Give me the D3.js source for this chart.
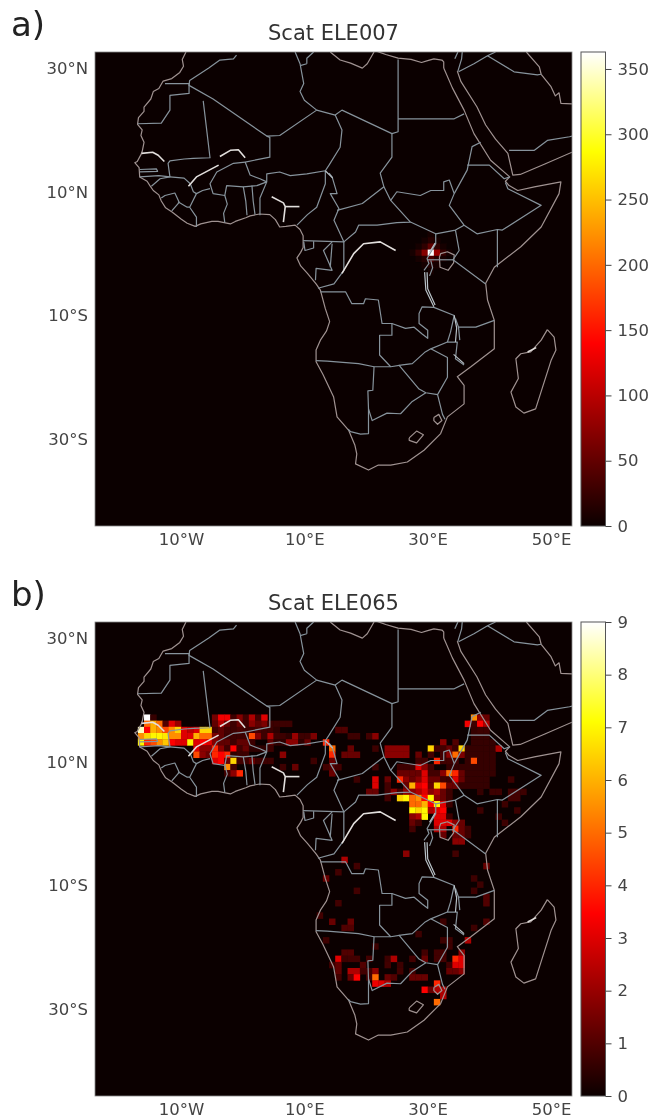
<!DOCTYPE html>
<html>
<head>
<meta charset="utf-8">
<script src="https://d3js.org/d3.v7.min.js"></script>
<style>
  html, body { margin: 0; padding: 0; background: #fff; }
  svg { display: block; filter: blur(0.45px); font-family: "DejaVu Sans", sans-serif; }
</style>
</head>
<body>
<div id="chart"></div>
<script>
// tick labels and titles
var lonTicks = [-10, 10, 30, 50];
var latTicks = [30, 10, -10, -30];
var barTicksA = [0, 50, 100, 150, 200, 250, 300, 350];
var barTicksB = [0, 1, 2, 3, 4, 5, 6, 7, 8, 9];
var maxA = 363, maxB = 9;

// gridded counts, each row is [lat, first lon, v, v, v ...]
var cellsA = [
  [3, 30, 5], [2, 29, 6, 16, 6], [1, 28, 5, 20, 48, 20, 5], [0, 27, 6, 26, 70, 363, 80, 24, 5],
  [-1, 28, 5, 16, 36, 16, 4], [-2, 29, 5, 12, 5], [-3, 30, 4]
];
var cellsWest = [
  [17, -16, 9, .6, 0, 0, 0, 0, 0, 0, 0, 0, 0, 1.5, 3.3, 3.3, .7, 1.7, .8, 2.3, .8, 3],
  [16, -16, 5, 6, 5, 1, 3, 2, 0, 0, 0, 0, 0, 1.2, 2.3, 1.2, .7, 1.3, .7, 1.8, 1.2, 1.6, .7, .7, .7, .7],
  [15, -17, 8.5, 3.5, 6, 5.5, 4.5, 5.5, 6.5, 3, 2.5, 3, 6.5, 6.5, .8, 1.2, .8, .7, .9, .7, .7, .9, .7, .7, .5],
  [14, -17, 5.5, 6.5, 7, 7, 6.8, 5.5, 5.5, 3, 3, 6, 5, 5, 1.5, 1.2, .7, .7, .7, .7, 4.5, 1.7, .7, 2.3, .7, .7, .5, 2, .7, .7, 1.6],
  [13, -17, 7, 4, 4.5, 5.5, 6.3, 3.5, 3, 3, 7, 3, 3.5, 3, 1.7, 1.2, 1.2, .7, 1.2, 1.2, .7, 0, 0, 1.2, .5, .5, 1.8, 1.8, .5, 1.3],
  [12, -8, 3, 1.8, 1.8, 4, 1.8, .8, 3.5, .8, 1.3, .5, .5, .5, .7],
  [11, -8, 4.5, 1.8, 1.3, 4, 3.5, 4, .5, .7, .7, 0, 0, 0, 0, 0, 1.8],
  [10, -5, 3, 3.5, 1.3, 6.5, .8, .7, 1.3, .7, .7, .7, 0, 0, 0, 0, 0, 0, .7],
  [9, -3, 5.5, .8, 0, 0, 0, 0, 0, 0, 0, .7, 0, 1.3],
  [8, -3, .8, 1.8, 4]
];
var cellsEast = [
  [17, 37, 5.5, 1.8, 1.3], [16, 36, 3.3, .7, 3.5, 2.3],
  [15, 15, 1, 1], [15, 37, .6, .7, .7],
  [14, 17, .7, .7, 0, .8, 1.8], [14, 37, .6, .6, .6],
  [13, 13, 4], [13, 32, 1.8, 0, 1, 0, 0, .6, .6, .6, .6],
  [12, 14, 5, 0, 0, 1.3], [12, 21, .7, 0, 1.8, 1.8, 1.8, 1.8, 0, 0, 0, 6.5, .8, .8, 1.3, .7, 6.5, .6, .6, .6, .6, .6, 2.3],
  [11, 14, 4, 0, 1.3, 1.3, 1.3], [11, 23, 1.8, 1.8, 1.8, 1.8, 0, 1.3, 0, .8, 0, .8, 1.8, 5, 1.6, .6, .6, .6, .6, .6],
  [10, 14, 1.3], [10, 28, .8, .8, 0, 4, .8, .8, .8, 0, .6, 4.5, .6, .6, .6],
  [9, 13, .8, 1, .8], [9, 21, .7, 0, 0, 0, .7, .7, .8, 3, 1.8, .8, 0, 0, .6, .6, .6, .6, .6, .6, .6, .6],
  [8, 14, 1.3], [8, 25, 1.3, 1.3, 1.3, 1.3, 3, .8, .8, 1.8, 5, 4, 1.3, .6, .6, .6, .6, .6],
  [7, 18, .7, 0, 0, 3, 0, 1.3, 0, 4, 1.8, 1.3, 1.8, 3, 1.3, 1.3, .8, .7, 3, 1.3, .6, .6, .6, .6, 0, 0, 0, .7],
  [6, 21, 3, 0, .8, 0, 0, 1.3, 6, 3, 3.5, 1.3, 6.5, 4.5, 1.3, 1.3, .6, .6, .6, .6, .6],
  [5, 20, 1.3, 1.3, 0, .8, 1.8, .8, 1.8, 1.8, 2.3, 3, 1.8, 2.3, 1.3, .7, 0, 0, 0, 0, .6, 0, .7, .7, 0, .8, .8, .7],
  [4, 23, .8, 0, 6.5, 7, 5, 5.5, 3.5, 7, 1.8, 1.3, .7], [4, 43, .8, .8],
  [3, 27, 5, 5, 6, 3.5, 7, 3, .7], [3, 42, .7],
  [2, 27, 7, 6.5, 7, 2.3, 3, 3.5], [2, 38, .7], [2, 44, .7],
  [1, 27, 1.8, 2.3, 7, 0, 3, 3, .7], [1, 41, .7],
  [0, 27, 1.3, .8, 0, 0, 3, 3, 3, 1.8, 1.3], [0, 42, .7],
  [-1, 27, .8], [-1, 31, 2.3, 2.3, 0, 4, 1.3, .7],
  [-2, 32, 1.3, 0, 1.3, 1.3, .7], [-3, 34, 1.8, 1.8],
  [-5, 26, 1.8], [-5, 34, .8], [-6, 16, 2.3]
];
var cellsSouth = [
  [-7, 18, .8], [-7, 39, 1.3], [-8, 15, .8], [-9, 13, 1.3], [-9, 37, .7], [-10, 38, .7],
  [-11, 18, .8], [-11, 37, .7], [-12, 39, 1], [-13, 15, .8], [-13, 39, 1], [-15, 12, .8],
  [-16, 14, 1.3], [-16, 17, 1.3], [-16, 32, .7], [-16, 39, 1], [-17, 16, 1, 1], [-17, 37, .7],
  [-18, 28, .7], [-19, 13, .7], [-19, 32, .7, .7], [-19, 36, 2.3], [-20, 21, .7], [-20, 33, .7],
  [-21, 16, 1, 1], [-21, 29, .8, 0, .8, .8, 0, 0, 1.8],
  [-22, 15, 3, .7, .8, .8, 0, .8, 0, 0, .7, 2.3, 0, 0, .8, 0, 1.3, 0, .8, .8, 0, 4, 3],
  [-23, 14, .7, 1.2, 0, 0, 0, 1, 0, 0, 0, .8, 0, .7, 0, 0, 0, 0, 0, 0, 0, .8, 3, 3],
  [-24, 15, 1.2, 0, 2.3, 2.3, .8, .8, 1.8, 0, 0, 0, .8, 0, .8, 0, 0, 0, 0, 0, 1.3, 1.3, 1.8],
  [-25, 15, .8, 0, 1.3, 3.5, 0, .8, 5, 0, 1.3, 1, 0, 0, 1.3, 1.3, 1.3],
  [-26, 21, 3.2, 3, 2.3], [-26, 31, 4],
  [-27, 29, 3.5, 1.3, 2.3, 2.3], [-28, 32, 2.3], [-29, 31, 5]
];

// coast lines, lon/lat
var coastAfrica = [[-9.2,32.6],[-9.8,31.4],[-9.6,30.3],[-10.2,29.3],[-11.5,28.3],[-12.9,27.9],[-13.6,26.7],[-14.5,26.2],[-14.9,25],[-16,23.7],[-16,23],[-16.9,22],[-17.05,20.9],[-16.3,20],[-16.5,19.1],[-16,18],[-16.3,16.5],[-16.5,16],[-17.1,14.9],[-17.5,14.7],[-16.8,13.9],[-16.7,12.4],[-15.5,11.7],[-15,10.9],[-14.5,10.2],[-13.6,9.5],[-13.2,8.5],[-12.5,7.4],[-11.4,6.7],[-10,5.6],[-9,4.9],[-7.7,4.4],[-6.8,4.8],[-5,5.2],[-4,5.2],[-2,4.8],[-1.2,5.2],[.5,5.8],[1.2,6.1],[2.7,6.4],[4.4,6.3],[5.3,5.5],[6,4.3],[7,4.4],[8.5,4.6],[9.3,3.9],[9.8,2.9],[9.8,1],[9.4,.2],[8.8,-.7],[9.4,-2],[10.5,-3.2],[11.9,-4.9],[12.6,-5.9],[13.4,-8.9],[14.1,-11],[13.6,-12.5],[12.6,-14],[11.9,-15.6],[11.9,-17.5],[13,-19.5],[14.75,-23.2],[15.3,-26.4],[17.2,-28.6],[18.2,-31],[18.5,-32.4],[18.3,-34],[20.4,-35],[22,-34.2],[24,-34.2],[26.7,-33.7],[29.4,-31.8],[32.1,-29.1],[33.2,-26.4],[35.9,-24.3],[35.9,-21.3],[34.8,-19.9],[37,-18.3],[40.8,-15.4],[40.8,-10.8],[39.7,-7.5],[39.4,-4.8],[40.8,-2.2],[45.1,1.1],[48.4,4.3],[51.3,9.7],[51.6,11.6],[47.3,10.8],[44.6,10.2],[43.2,11],[42.6,11.7],[43.3,12.4],[40.2,15.1],[37.5,19.4],[35.9,23.2],[34,26.8],[32.6,30]];
var coastMed = [[32.6,30],[32.6,31],[32.3,31.3],[31,31.5],[30,31.2],[29,30.9],[27.3,31.4],[25.2,31.6],[23.2,32.2],[21.5,32.8]];
var coastSirte = [[14.2,32.6],[15.8,31.3],[17.5,30.8],[19.4,30],[20.2,30.7],[21.3,32.6]];
var coastArabia = [[34.8,29.5],[35.4,27.8],[38,23.7],[39.4,20.8],[41,18.5],[43,16.2],[43.8,12.7],[45,12.8],[49,14.5],[53.4,16.4]];
var coastGulf = [[46,32.6],[48.1,30.2],[48.4,29],[50,27],[50.7,25.5],[51.3,26],[51.6,24.3],[53.4,24.2]];
var madagascar = [[49.4,-12.3],[50.5,-13.5],[50.8,-15.6],[50,-17.3],[47.5,-25.1],[45.6,-25.8],[44.3,-24.8],[43.5,-22.4],[44.7,-20.2],[44.3,-17],[45.1,-16.2],[46.7,-15.9],[48.4,-14],[49.4,-12.3]];
var lesotho = [[27,-29.8],[28.2,-28.7],[29.3,-29.3],[28.2,-30.6],[27,-30.2],[27,-29.8]];
var swaziland = [[31,-26.5],[31.8,-26],[32.3,-27],[31.6,-27.6],[31,-27],[31,-26.5]];
var victoria = [[31.9,-.6],[32,-2.2],[33.3,-2.7],[34.2,-1.5],[34.3,-.2],[33.2,.3],[32.1,0],[31.9,-.6]];

// country borders
var bordersWest = [
  [[-1,32.1],[-1.5,31.5],[-3.7,31.3],[-5.5,30],[-8.6,28],[-8.7,27.2],[-4.8,25],[3.9,19],[4.4,18.8],[4.4,15.6],[.4,14.8]],
  [[-12.6,27.5],[-8.7,27.5],[-8.7,25.9],[-11.8,25.6],[-11.8,23.2],[-13.2,21.1],[-17,21]],
  [[-6.4,24.7],[-5.3,15.5],[-8,15.4],[-9.5,15.3],[-11.8,15],[-12.1,14.6],[-11.8,12.4],[-13.4,12.1],[-14.8,10.9]],
  [[3.9,19],[6,19.1],[12,23.2],[10,24.8],[9.3,26.2],[9.9,27.5],[9.3,30.7],[8.5,32.6]],
  [[10.4,30.7],[10.4,31.6],[11.5,32.6]],
  [[9.3,30.4],[10.4,30.7]],
  [[.4,14.8],[1.2,12.7],[2.8,12.1],[3.9,11.6],[3.9,12.9],[6,13.2],[7.7,12.6],[10.4,12.9],[13.4,13.4],[13.4,11.3],[12,7.5],[10.5,6.3],[8.8,4.6]],
  [[3.9,11.6],[2.8,9],[2.8,6.2]],
  [[.4,14.8],[-1.5,14.6],[-4.2,13.2],[-5.3,11.3],[-4.8,9.7],[-2.9,9.4],[-2.6,11],[.1,10.8],[2.3,11],[3.9,11.6]],
  [[.1,10.8],[.5,8.5],[.7,6.2]],
  [[1.5,11],[1.7,8.5],[2,6.3]],
  [[-2.9,9.4],[-2.5,8],[-3.1,6.5],[-2.9,5]],
  [[-7.5,4.3],[-7.5,5.9],[-8.6,7.5],[-7.5,9.7],[-6.5,10.2],[-5.3,10.5]],
  [[-7.5,9.7],[-8,10],[-8.5,11.3],[-9.5,12.2],[-11.8,12.4]],
  [[-16.7,12.4],[-13.6,12.6],[-11.8,12.4]],
  [[-16.7,13.6],[-14,13.7],[-13.8,13.3],[-16.7,13.2]],
  [[-13.2,9],[-12.6,9.4],[-11,9.8],[-10.3,8.3],[-11.5,6.9]],
  [[-10.5,8.4],[-9,7.5],[-8.6,7.5]]
];
var bordersCentral = [
  [[12,23.2],[15,22.4],[16.1,23.2],[24.2,19.4],[25.2,19.7],[25.2,31.4]],
  [[25.2,21.8],[34.3,21.8],[35.9,22.6]],
  [[15,22.4],[16.1,20],[15.8,17.2],[14,14.3],[13.4,13.4]],
  [[14,13],[14.5,12.4],[15.3,9.7],[14.2,9.7],[15.6,7.3],[14.8,5.4],[16.4,1.9],[9.8,2.1]],
  [[24.2,19.4],[24.2,15.6],[22.3,13],[22.9,10.8],[19.4,8.1],[15.3,7]],
  [[22.9,10.8],[24,8.6],[27.2,5.1],[25,5],[21.8,4.6],[18.8,4.6],[18.3,3.5],[16.4,1.9]],
  [[27.2,5.1],[31.3,3.2],[34.5,3.8],[35.9,4.6]],
  [[24,8.6],[25,10],[28.8,9.4],[30.5,10.2],[32.6,10.2],[32.6,11.6],[33.5,11.9],[34.3,9.7],[33.5,7.8],[35.9,4.6],[38,3.2],[41.3,3.9],[42.1,3.8],[48.4,7.8],[43,10.5],[42.6,11.5]],
  [[34.3,9.7],[36.4,13.5],[37.2,17.3],[38.6,18]],
  [[36.4,14.3],[40,14.3],[42.4,12.1],[43.3,12.4]],
  [[41.3,3.9],[41.3,-2.2]],
  [[34.5,3.8],[35.1,.5],[34.1,-1],[39.4,-4.9]],
  [[31.3,3.2],[31.3,1.6],[29.9,-.8],[30.2,-1.6],[29.4,-2.7]],
  [[29.9,-1],[34.1,-1]],
  [[30.5,-1.1],[30.8,-2.3],[30.3,-3.6]],
  [[9.9,1.9],[10.1,.5],[11.5,.9],[11.5,2]],
  [[14.5,1.9],[13.1,.5],[14.5,-2.7],[11.9,-2.4],[11.8,-4.3]],
  [[14.5,1.6],[14.2,-2.2]],
  [[16.4,1.9],[16.4,-2.7],[14.8,-4.9],[12.2,-5.6]]
];
var bordersSouth = [
  [[12.6,-6.2],[16.7,-6.2],[17.7,-8.1],[19.6,-8.1],[19.9,-7.3],[22,-7.5],[22.6,-11.3],[24.2,-11.3],[24.2,-13.2],[22.2,-13.2],[22.2,-16.4],[24,-18.3]],
  [[24.2,-11.3],[26.4,-12.1],[27.8,-11.9],[29.1,-13],[30,-13.7],[30,-12.4],[28.6,-11.3],[28.6,-9.7],[29.1,-8.6],[31,-8.7],[34.3,-10],[33.7,-12.7],[33.2,-14.3],[34.8,-14.3],[34.5,-17],[35.9,-18]],
  [[35,-11.9],[37.8,-11.9],[40.8,-10.8]],
  [[34.5,-10.5],[35,-11.9],[35.2,-14]],
  [[33.2,-14.3],[30.5,-15.4],[29.6,-15.9],[27.5,-17.8],[25.9,-18],[24,-18.3],[21.3,-18.3],[18.8,-17.8],[13.7,-17.4],[11.9,-17.3]],
  [[30.5,-15.4],[33.2,-16.8],[33.2,-20],[31.6,-22.8],[32.4,-26],[32.8,-26.8]],
  [[25.3,-18],[28.6,-21.9],[29.7,-22.5],[31.6,-22.8]],
  [[21.3,-18.3],[21.1,-22.1],[20.3,-22.2],[20.4,-25.1],[21,-27],[23.4,-25.8],[25.6,-25.9],[27.5,-23.9],[29.7,-22.5]],
  [[20.4,-25.1],[20.4,-29.1],[19.1,-29.2],[17.5,-28.8],[17.1,-28.4]]
];
var bordersArabia = [
  [[34.4,31.5],[34.9,32.6]], [[34.9,29.5],[35.5,31.5],[35.6,32.6]],
  [[35,29.4],[37.5,30.7],[39.7,32],[41,32.6]],
  [[39.7,32],[44,29.4],[47.8,28.9],[48.4,29]],
  [[43.2,16.7],[47.3,16.7],[49.4,18.3],[53,18.9],[53.4,19]]
];

// rivers come out bright in both maps, the long lakes less so
var brightLines = [
  [[-16.4,16.2],[-14.6,16.4],[-13.7,15.9],[-12.7,14.9]],
  [[-3.7,15.7],[-2,16.7],[-.7,16.8],[.4,15.5]],
  [[-8.8,10.9],[-7.5,12.4],[-3.9,14.3]],
  [[4.7,9.2],[6.6,8.2],[6.9,7.6],[6.6,5.1]],
  [[6.9,7.6],[9.2,7.6]],
  [[24.8,.5],[22.3,1.9],[19.6,1.6],[18,0],[16.1,-3.2]],
  [[46.2,-15.9],[47.6,-15.2]]
];
var lakeLines = [
  [[29.5,-3],[29.7,-5.9],[31,-8.6]],
  [[29.9,-3],[30,-5.7],[31.2,-8.3]],
  [[34.3,-10],[34.7,-12],[34.5,-14.3]],
  [[34.2,-16.3],[35.9,-17.8]],
  [[13.4,13.4],[14.6,12.2]],
  [[31.2,1.7],[30.3,.2]]
];

var width = 651, height = 1118;
var svg = d3.select('#chart').append('svg')
  .attr('width', width).attr('height', height);

var defs = svg.append('defs');
var hotStops = [[0, '#0b0000'], [.385, '#ff0000'], [.79, '#ffff00'], [1, '#ffffff']];
var hot = d3.scaleLinear().domain(hotStops.map(function (d) { return d[0]; }))
  .range(hotStops.map(function (d) { return d[1]; })).clamp(true);
var grad = defs.append('linearGradient').attr('id', 'hotbar')
  .attr('x1', 0).attr('y1', 1).attr('x2', 0).attr('y2', 0);
hotStops.forEach(function (d) {
  grad.append('stop').attr('offset', d[0]).attr('stop-color', d[1]);
});
defs.append('filter').attr('id', 'soft').attr('filterUnits', 'userSpaceOnUse')
  .attr('x', 0).attr('y', 0).attr('width', width).attr('height', height)
  .append('feGaussianBlur').attr('stdDeviation', .65);

var x = d3.scaleLinear().domain([-23.95, 53.4]).range([95, 572]);
var lineDefs = [
  {lines: [coastAfrica, coastMed, coastSirte, coastArabia, coastGulf, madagascar, lesotho, swaziland, victoria], color: '#a09291', w: 1.2},
  {lines: bordersWest.concat(bordersCentral, bordersSouth, bordersArabia), color: '#87939c', w: 1.2},
  {lines: lakeLines, color: '#b9c2c8', w: 1.2},
  {lines: brightLines, color: '#e2dedc', w: 1.6}
];

function expand(rows) {
  var out = [];
  rows.forEach(function (r) {
    for (var i = 2; i < r.length; i++) {
      if (r[i] > 0) out.push({lat: r[0], lon: r[1] + i - 2, v: r[i]});
    }
  });
  return out;
}

function panel(top, id, name, letter, rows, vmax, barTicks) {
  var bottom = top + 474;
  var y = d3.scaleLinear().domain([32.6, -44.05]).range([top, bottom]);
  var color = function (v) { return hot(v / vmax); };

  svg.append('text').attr('x', 11).attr('y', top - 16)
    .attr('font-size', 34).attr('fill', '#222').text(letter);
  svg.append('text').attr('x', 333.5).attr('y', top - 12).attr('text-anchor', 'middle')
    .attr('font-size', 21).attr('fill', '#333').text(name);

  defs.append('clipPath').attr('id', 'clip' + id).append('rect')
    .attr('x', 95).attr('y', top).attr('width', 477).attr('height', 474);

  var g = svg.append('g').attr('clip-path', 'url(#clip' + id + ')');
  g.append('rect').attr('x', 95).attr('y', top).attr('width', 477).attr('height', 474)
    .attr('fill', hot(0));

  g.append('g').attr('filter', 'url(#soft)')
    .selectAll('rect').data(expand(rows)).enter().append('rect')
    .attr('x', function (d) { return x(d.lon); })
    .attr('y', function (d) { return y(d.lat + .65); })
    .attr('width', function (d) { return x(d.lon + 1) - x(d.lon) + .3; })
    .attr('height', function (d) { return y(d.lat - .35) - y(d.lat + .65) + .3; })
    .attr('fill', function (d) { return color(d.v); });

  var path = d3.line().x(function (d) { return x(d[0]); }).y(function (d) { return y(d[1]); });
  lineDefs.forEach(function (def) {
    g.selectAll(null).data(def.lines).enter().append('path')
      .attr('d', path).attr('fill', 'none')
      .attr('stroke', def.color).attr('stroke-width', def.w)
      .attr('stroke-linejoin', 'round');
  });

  svg.append('rect').attr('x', 95).attr('y', top).attr('width', 477).attr('height', 474)
    .attr('fill', 'none').attr('stroke', '#888').attr('stroke-width', .8);

  // gridline labels only, no tick marks on the map
  var xAxis = d3.axisBottom(x).tickValues(lonTicks).tickSize(0).tickPadding(7)
    .tickFormat(function (d) { return Math.abs(d) + '°' + (d < 0 ? 'W' : 'E'); });
  var yAxis = d3.axisLeft(y).tickValues(latTicks).tickSize(0).tickPadding(7)
    .tickFormat(function (d) { return Math.abs(d) + '°' + (d < 0 ? 'S' : 'N'); });
  var ax = svg.append('g').attr('transform', 'translate(0,' + bottom + ')').call(xAxis);
  var ay = svg.append('g').attr('transform', 'translate(95,0)').call(yAxis);
  [ax, ay].forEach(function (a) {
    a.select('.domain').remove();
    a.selectAll('text').attr('font-size', 16.5).attr('fill', '#444')
      .style('font-family', '"DejaVu Sans", sans-serif');
  });

  // colour bar
  var bar = d3.scaleLinear().domain([0, vmax]).range([bottom, top]);
  svg.append('rect').attr('x', 581).attr('y', top).attr('width', 24.5).attr('height', 474)
    .attr('fill', 'url(#hotbar)').attr('stroke', '#555').attr('stroke-width', 1);
  var cb = svg.append('g').attr('transform', 'translate(605.5,0)')
    .call(d3.axisRight(bar).tickValues(barTicks).tickSize(6).tickPadding(6));
  cb.select('.domain').remove();
  cb.selectAll('line').attr('stroke', '#444');
  cb.selectAll('text').attr('font-size', 16.5).attr('fill', '#444')
    .style('font-family', '"DejaVu Sans", sans-serif');
}

panel(52, 'a', 'Scat ELE007', 'a)', cellsA, maxA, barTicksA);
panel(622, 'b', 'Scat ELE065', 'b)', cellsWest.concat(cellsEast, cellsSouth), maxB, barTicksB);
</script>
</body>
</html>
